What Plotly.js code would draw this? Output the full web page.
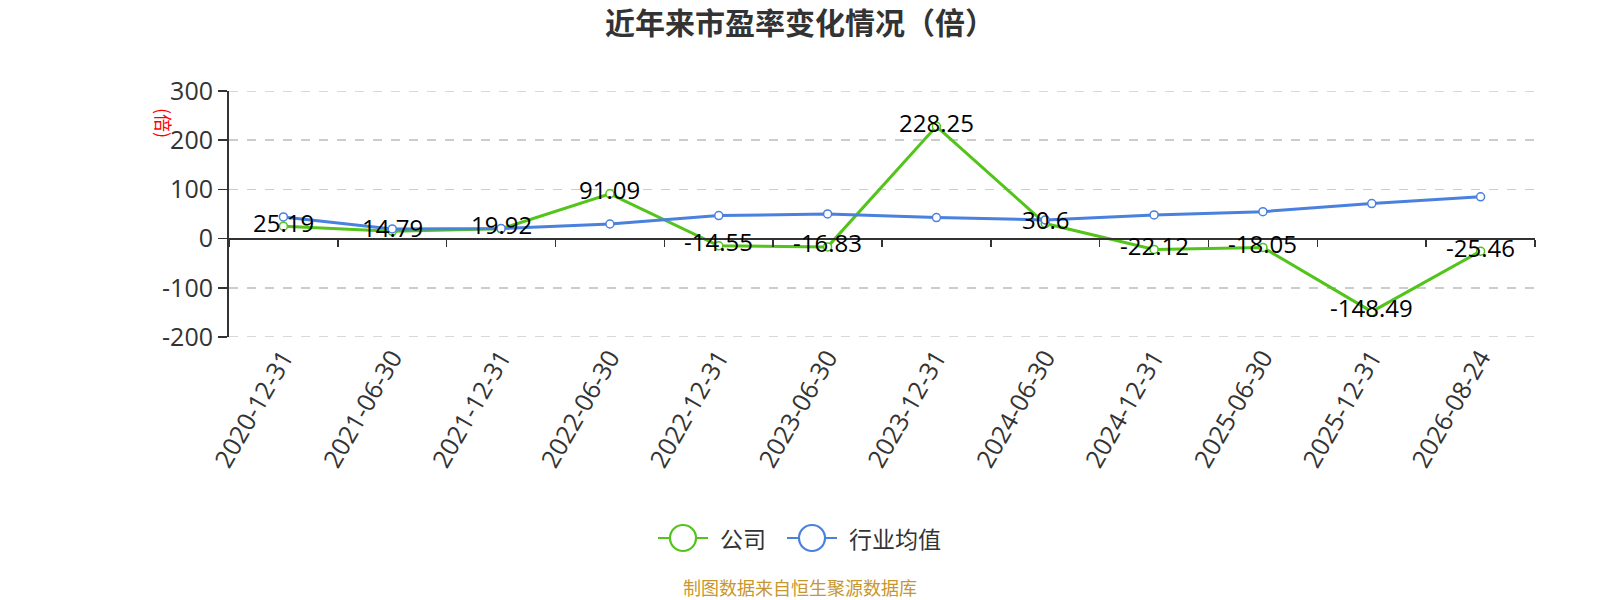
<!DOCTYPE html>
<html>
<head>
<meta charset="utf-8">
<script src="https://cdn.plot.ly/plotly-3.0.1.min.js"></script>
<style>html,body{margin:0;padding:0;background:#fff;}#chart{width:1600px;height:600px;}</style>
</head>
<body>
<div id="chart"></div>
<script>
var categories = ["2020-12-31","2021-06-30","2021-12-31","2022-06-30","2022-12-31","2023-06-30","2023-12-31","2024-06-30","2024-12-31","2025-06-30","2025-12-31","2026-08-24"];
var companyValues = [25.19, 14.79, 19.92, 91.09, -14.55, -16.83, 228.25, 30.6, -22.12, -18.05, -148.49, -25.46];
var industryValues = [44, 19.6, 20.3, 29.7, 46.7, 50.1, 42.7, 37.9, 48.1, 54.8, 71.1, 85];
var seriesNames = ["公司", "行业均值"];
var yTicks = [-200, -100, 0, 100, 200, 300];

var GREEN = "#52c41a", BLUE = "#4a80de";
var FONT = "Noto Sans CJK SC, Noto Sans, sans-serif";
var NUMFONT = "Open Sans, Noto Sans, sans-serif";
var L = 229, R = 1535, T = 91, B = 337;
function px(x){ return (x - L) / (R - L); }
function py(y){ return (B - y) / (B - T); }

var traces = [
  {x: categories, y: industryValues, name: seriesNames[1], type: "scatter", mode: "lines+markers",
   xaxis: "x2", yaxis: "y", showlegend: false,
   line: {color: BLUE, width: 3},
   marker: {symbol: "circle", size: 8, color: "#fff", line: {color: BLUE, width: 1.5}}},
  {x: categories, y: companyValues, name: seriesNames[0], type: "scatter", mode: "lines+markers",
   xaxis: "x", yaxis: "y", showlegend: false,
   line: {color: GREEN, width: 3},
   marker: {symbol: "circle", size: 8, color: "#fff", line: {color: GREEN, width: 1.5}}}
];

var annotations = companyValues.map(function(v, i){
  return {x: categories[i], y: v, xref: "x", yref: "y", text: String(v), showarrow: false,
          yshift: 4, yanchor: "middle", xanchor: "center",
          font: {family: NUMFONT, size: 24, color: "#000"}};
});
annotations.push({xref: "paper", yref: "paper", x: px(164), y: py(123), xanchor: "center", yanchor: "middle",
  text: "(倍)", textangle: 90, showarrow: false, font: {family: FONT, size: 18, color: "#ff0000"}});
annotations.push({xref: "paper", yref: "paper", x: px(718), y: py(538), xanchor: "left", yanchor: "middle",
  text: seriesNames[0], showarrow: false, font: {family: FONT, size: 23, color: "#333"}});
annotations.push({xref: "paper", yref: "paper", x: px(847), y: py(538), xanchor: "left", yanchor: "middle",
  text: seriesNames[1], showarrow: false, font: {family: FONT, size: 23, color: "#333"}});
annotations.push({xref: "paper", yref: "paper", x: px(800), y: py(587), xanchor: "center", yanchor: "middle",
  text: "制图数据来自恒生聚源数据库", showarrow: false, font: {family: FONT, size: 18, color: "#c8962e"}});

function legendIcon(cx, color){
  return [
    {type: "line", xref: "paper", yref: "paper", x0: px(cx - 25), x1: px(cx + 25), y0: py(538), y1: py(538),
     line: {color: color, width: 2}},
    {type: "circle", xref: "paper", yref: "paper", x0: px(cx - 13), x1: px(cx + 13), y0: py(551), y1: py(525),
     fillcolor: "#fff", line: {color: color, width: 2.2}}
  ];
}
function edgeGrid(v){
  return {type: "line", xref: "paper", yref: "y", x0: 0, x1: 1, y0: v, y1: v, layer: "below",
          line: {color: "#cccccc", width: 1.5, dash: "dash"}};
}
var shapes = legendIcon(683, GREEN).concat(legendIcon(812, BLUE))
  .concat([edgeGrid(yTicks[0]), edgeGrid(yTicks[yTicks.length - 1])]);

var layout = {
  width: 1600, height: 600,
  margin: {l: L, r: 1600 - R, t: T, b: 600 - B, pad: 0},
  paper_bgcolor: "#fff", plot_bgcolor: "#fff",
  showlegend: false,
  title: {text: "近年来市盈率变化情况（倍）", xref: "container", yref: "container", x: 0.5, y: 1 - 23/600,
          xanchor: "center", yanchor: "middle",
          font: {family: FONT, size: 30, color: "#333", weight: "bold"}},
  xaxis: {type: "category", categoryarray: categories, categoryorder: "array", range: [-0.5, categories.length - 0.5],
          showline: false, showgrid: false, zeroline: false, ticks: "", tickangle: -60,
          tickfont: {family: NUMFONT, size: 25, color: "#333"}},
  xaxis2: {type: "category", categoryarray: categories, categoryorder: "array", range: [-0.5, categories.length - 0.5],
           overlaying: "x", anchor: "free", position: 0.4, side: "bottom",
           showline: true, linecolor: "#333", linewidth: 2, showgrid: false, zeroline: false,
           ticks: "outside", tickson: "boundaries", ticklen: 7, tickwidth: 1.5, tickcolor: "#333",
           showticklabels: false},
  yaxis: {range: [-200, 300], tickvals: yTicks, ticktext: yTicks.map(String),
          showline: true, linecolor: "#333", linewidth: 2, ticks: "outside", ticklen: 9, tickwidth: 1.5, tickcolor: "#333",
          showgrid: true, gridcolor: "#cccccc", gridwidth: 1.5, griddash: "dash", zeroline: false,
          tickfont: {family: NUMFONT, size: 25, color: "#333"}},
  annotations: annotations,
  shapes: shapes
};

Plotly.newPlot("chart", traces, layout, {displayModeBar: false, staticPlot: true});
</script>
</body>
</html>
